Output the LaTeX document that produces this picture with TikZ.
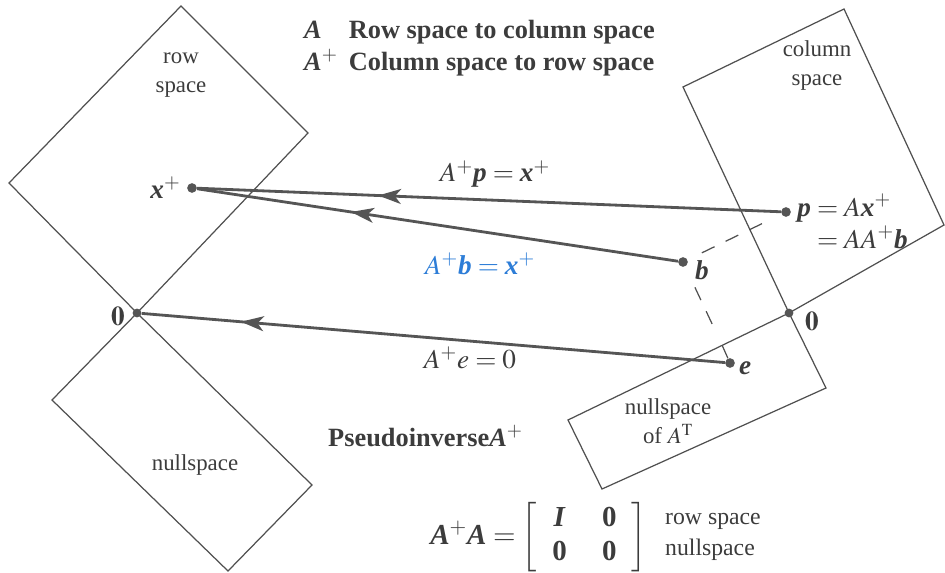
\documentclass[tikz,border=0pt]{standalone}
\usepackage{amsmath}
\usepackage{mathptmx}
\usepackage{fontspec}
\setmainfont{Liberation Serif}
\usetikzlibrary{arrows.meta,decorations.markings,positioning}
\definecolor{figInk}{RGB}{60,60,60}
\definecolor{edgeGray}{RGB}{80,80,80}
\definecolor{mapGray}{RGB}{85,85,85}
\definecolor{mapBlue}{RGB}{45,125,215}
\newcommand{\bv}[1]{\textbf{\textit{#1}}}

\begin{document}
\begin{tikzpicture}[
  x=0.02cm, y=-0.02cm,
  font=\fontsize{13}{16.5}\selectfont, text=figInk,
  subspace/.style={draw=edgeGray, line width=0.7pt},
  dot/.style={circle, fill=mapGray, inner sep=0pt, minimum size=5.5pt},
  map/.style={draw=mapGray, line width=1.6pt,
    decoration={markings, mark=at position #1 with {\arrow{Stealth[length=13pt,width=8.5pt,inset=3.5pt]}}},
    postaction={decorate}},
  guide/.style={draw=edgeGray, line width=0.7pt, dash pattern=on 8pt off 7pt},
  pt/.style={font=\fontsize{15.5}{18}\selectfont},
  title/.style={font=\fontsize{15}{18}\selectfont\bfseries, align=left}
]
\useasboundingbox (0,0) rectangle (945,573);

% the four subspaces
\coordinate (zl) at (137,313);
\coordinate (zr) at (789,313);
\draw[subspace] (zl) -- (9,183) -- (181,6) -- (308,133) -- cycle;
\draw[subspace] (zl) -- (52,400) -- (228,571) -- (312,485) -- cycle;
\draw[subspace] (zr) -- (683,87) -- (844,9) -- (944,225) -- cycle;
\draw[subspace] (zr) -- (826,388) -- (602,489) -- (568,420) -- cycle;

\node[align=center] (rowlbl) at (181,75) {row\\ space};
\node (nulllbl) at (195,465) {nullspace};
\node[align=center] (collbl) at (817,66) {column\\ space};
\node[align=center] (nulltlbl) at (668,421) {nullspace\\ of $A^{\mathrm{T}}$};

% points
\node[dot] (xp) at (192,188) {};
\node[dot] (p) at (786,212) {};
\node[dot] (b) at (683,262) {};
\node[dot] (e) at (730,363) {};
\node[dot, minimum size=5pt] (o1) at (zl) {};
\node[dot, minimum size=5pt] (o2) at (zr) {};
\coordinate (foot) at (722,345);

\node[pt, left=0pt of xp] (xplbl) {$\bv{x}^{+}$};
\node[pt, anchor=east] (o1lbl) at (131,316) {$\mathbf{0}$};
\node[pt, anchor=west] (o2lbl) at (799,321) {$\mathbf{0}$};
\node[pt, anchor=west] (blbl) at (689,270) {$\bv{b}$};
\node[pt, anchor=west] (elbl) at (733,368) {$\bv{e}$};
\node[pt, anchor=west, inner sep=0pt] (plbl) at (797,226)
  {$\begin{aligned}\bv{p}&=A\bv{x}^{+}\\[-4pt] &=AA^{+}\bv{b}\end{aligned}$};

% the maps back to the row space
\draw[map=0.69] (p) -- (xp);
\draw[map=0.68] (b) -- (xp);
\draw[map=0.83] (e) -- (o1);
\draw[guide, shorten <=9pt, shorten >=12pt] (b) -- (p);
\draw[guide, shorten <=13pt, shorten >=9pt] (b) -- (foot);
\draw[draw=edgeGray, line width=0.7pt] (foot) -- (e);

\node[pt] (pmap) at (495,174) {$A^{+}\bv{p}=\bv{x}^{+}$};
\node[pt, text=mapBlue] (bmap) at (480,264) {$A^{+}\bv{b}=\bv{x}^{+}$};
\node[pt] (emap) at (470,358) {$A^{+}e=0$};

% captions
\node[title, anchor=west] (head) at (298,48)
  {\begin{tabular}{@{}l@{\ \,}l@{}}$\bv{A}$ & Row space to column space\\ $\bv{A}^{+}$ & Column space to row space\end{tabular}};
\node[title, anchor=west] (pinv) at (322,436) {Pseudoinverse$\bv{A}^{+}$};
\node[pt, anchor=west, inner sep=0pt, font=\fontsize{16.5}{19}\selectfont\bfseries] (prod) at (430,537)
  {$\bv{A}^{+}\bv{A}\mathrel{\boldsymbol{=}}\left[\;\begin{array}{c@{\hspace{20pt}}c}\bv{I} & \textbf{0}\\ \textbf{0} & \textbf{0}\end{array}\;\right]$};
\node[align=left, anchor=west, font=\fontsize{13.5}{17.5}\selectfont] (prodlbl) at (659,537) {row space\\ nullspace};
\end{tikzpicture}
\end{document}
